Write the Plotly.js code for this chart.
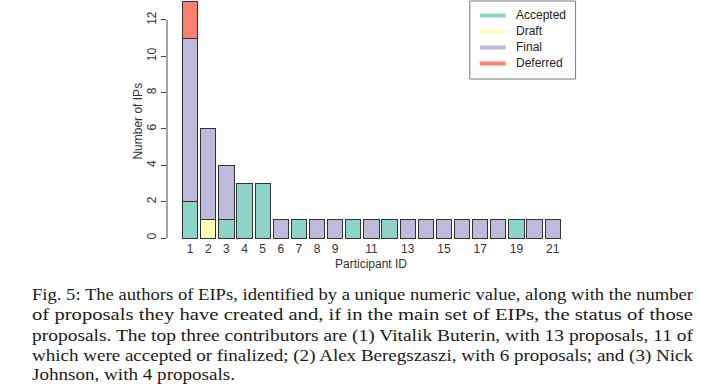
<!DOCTYPE html>
<html>
<head>
<meta charset="utf-8">
<script src="https://cdn.plot.ly/plotly-3.0.1.min.js"></script>
<style>
  html, body { margin: 0; padding: 0; background: #fff; }
  #chart { width: 708px; height: 384px; }
</style>
</head>
<body>
<div id="chart"></div>
<script>
// ---- data ----
const participants = [1,2,3,4,5,6,7,8,9,10,11,12,13,14,15,16,17,18,19,20,21];
const accepted = [2,0,1,3,3,0,1,0,0,1,0,1,0,0,0,0,0,0,1,0,0];
const draft    = [0,1,0,0,0,0,0,0,0,0,0,0,0,0,0,0,0,0,0,0,0];
const final    = [9,5,3,0,0,1,0,1,1,0,1,0,1,1,1,1,1,1,0,1,1];
const deferred = [2,0,0,0,0,0,0,0,0,0,0,0,0,0,0,0,0,0,0,0,0];
const statusNames = ["Accepted", "Draft", "Final", "Deferred"];
const xTickVals = [1,2,3,4,5,6,7,8,9,11,13,15,17,19,21];
const yTickVals = [0,2,4,6,8,10,12];
const xTitle = "Participant ID";
const yTitle = "Number of IPs";
const captionLines = [
  "Fig. 5: The authors of EIPs, identified by a unique numeric value, along with the number",
  "of proposals they have created and, if in the main set of EIPs, the status of those",
  "proposals. The top three contributors are (1) Vitalik Buterin, with 13 proposals, 11 of",
  "which were accepted or finalized; (2) Alex Beregszaszi, with 6 proposals; and (3) Nick",
  "Johnson, with 4 proposals."
];

// ---- style ----
const colors = ["#8DD3C7", "#FFFFB3", "#BEBADA", "#FB8072"];
const W = 708, H = 384;
const mL = 166.5, mR = 132.6, mT = 0, mB = 144;
const plotW = W - mL - mR, plotH = H - mT - mB;
const px2x = px => (px - mL) / plotW;
const py2y = py => (H - mB - py) / plotH;

const series = [accepted, draft, final, deferred];
const traces = series.map((vals, i) => ({
  type: "bar",
  x: participants,
  y: vals.map(v => v === 0 ? null : v),
  name: statusNames[i],
  showlegend: false,
  marker: { color: colors[i], line: { color: "#333333", width: 1 } },
  hoverinfo: "skip"
}));

const captionFont = { family: "Liberation Serif, serif", size: 16, color: "#1a1a1a" };
const baselines = [300, 320.5, 341, 361.5, 380];
const captionWidths = [661, 661, 661, 661, 203];
const annotations = captionLines.map((t, i) => ({
  text: t,
  xref: "paper", yref: "paper",
  x: px2x(29), y: py2y(baselines[i] - 5.4),
  xanchor: "left", yanchor: "middle",
  align: "left",
  showarrow: false,
  font: captionFont
}));

// y axis title
annotations.push({
  text: yTitle,
  xref: "paper", yref: "paper",
  x: px2x(137), y: py2y(121),
  xanchor: "center", yanchor: "middle",
  textangle: -90,
  showarrow: false,
  font: { family: "Liberation Sans, Arial, sans-serif", size: 12, color: "#333" }
});

// custom legend (line keys)
const shapes = [{
  type: "line",
  xref: "paper", yref: "y",
  x0: 0, x1: 0,
  y0: yTickVals[0], y1: yTickVals[yTickVals.length - 1],
  line: { color: "#444", width: 1 }
}, {
  type: "rect",
  xref: "paper", yref: "paper",
  x0: px2x(470), x1: px2x(576),
  y0: py2y(1), y1: py2y(79),
  line: { color: "#777", width: 1 },
  fillcolor: "#ffffff"
}];
statusNames.forEach((name, i) => {
  const yy = 15.5 + 16 * i;
  shapes.push({
    type: "line",
    xref: "paper", yref: "paper",
    x0: px2x(480), x1: px2x(506),
    y0: py2y(yy), y1: py2y(yy),
    line: { color: colors[i], width: 4 }
  });
  annotations.push({
    text: name,
    xref: "paper", yref: "paper",
    x: px2x(514), y: py2y(yy),
    xanchor: "left", yanchor: "middle",
    showarrow: false,
    font: { family: "Liberation Sans, Arial, sans-serif", size: 12, color: "#222" }
  });
});

const layout = {
  width: W, height: H,
  margin: { l: mL, r: mR, t: mT, b: mB, pad: 0 },
  paper_bgcolor: "#ffffff",
  plot_bgcolor: "#ffffff",
  barmode: "stack",
  bargap: 0.16,
  showlegend: false,
  font: { family: "Liberation Sans, Arial, sans-serif", size: 12, color: "#333" },
  xaxis: {
    range: [-0.277, 22.23],
    tickmode: "array",
    tickvals: xTickVals,
    ticktext: xTickVals.map(String),
    ticks: "",
    showline: false,
    showgrid: false,
    zeroline: false,
    tickfont: { size: 12, color: "#333" },
    title: { text: xTitle, font: { size: 12, color: "#333" }, standoff: 4 },
    automargin: false
  },
  yaxis: {
    range: [-0.11, 13.10],
    tickmode: "array",
    tickvals: yTickVals,
    ticktext: yTickVals.map(String),
    tickangle: -90,
    ticks: "outside",
    ticklen: 5,
    tickwidth: 1,
    tickcolor: "#444",
    showline: false,
    showgrid: false,
    zeroline: false,
    tickfont: { size: 12, color: "#333" },
    automargin: false
  },
  shapes: shapes,
  annotations: annotations
};

Plotly.newPlot("chart", traces, layout, { staticPlot: true, displayModeBar: false }).then(() => {
  const texts = document.querySelectorAll(".annotation-text");
  texts.forEach((el, i) => {
    if (i < captionLines.length) {
      el.setAttribute("textLength", captionWidths[i]);
      el.setAttribute("lengthAdjust", "spacingAndGlyphs");
    }
  });
});
</script>
</body>
</html>
